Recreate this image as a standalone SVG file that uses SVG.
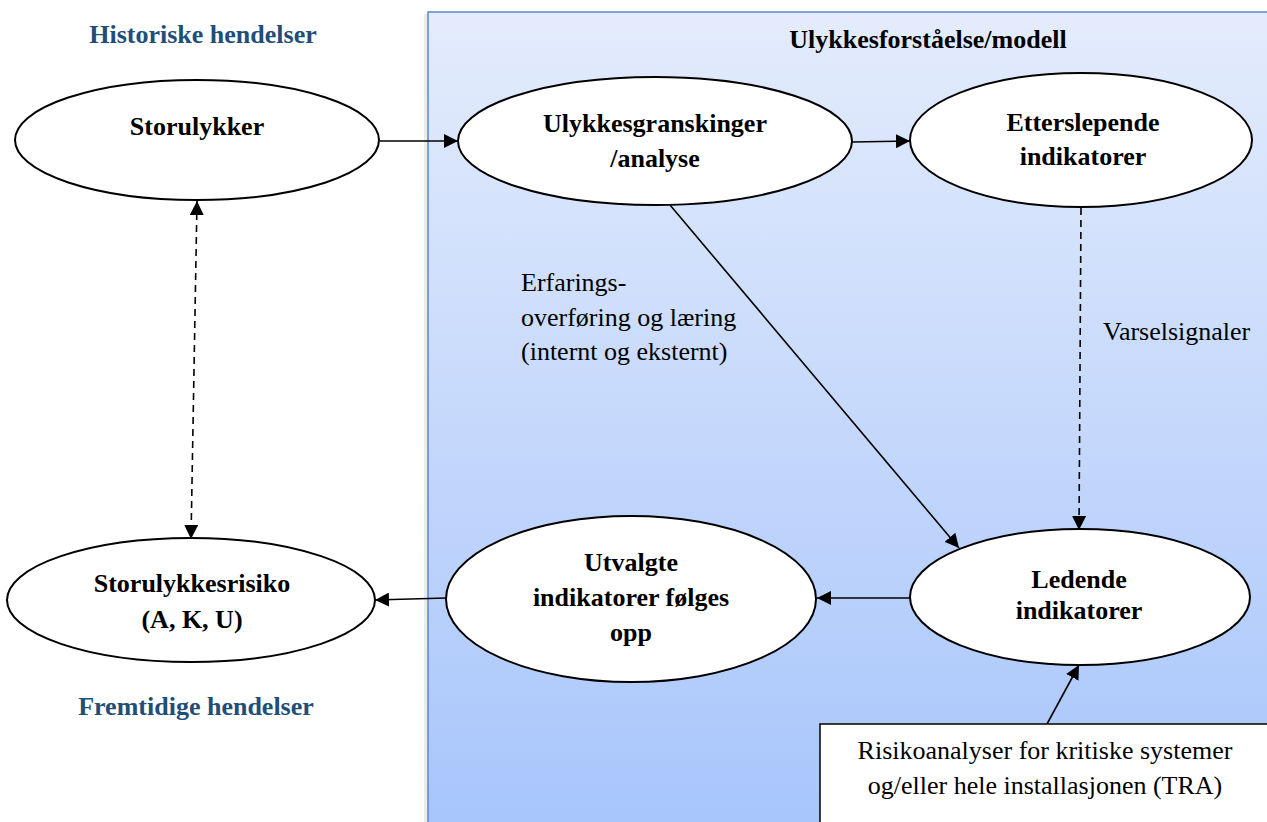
<svg xmlns="http://www.w3.org/2000/svg" width="1267" height="822" viewBox="0 0 1267 822">
  <defs>
    <linearGradient id="panelFill" x1="0" y1="0" x2="0" y2="1">
      <stop offset="0" stop-color="#e4ecfc"/>
      <stop offset="1" stop-color="#a7c5fb"/>
    </linearGradient>
    <marker id="arrow" viewBox="0 0 10 10" refX="10" refY="5" markerWidth="14" markerHeight="14" markerUnits="userSpaceOnUse" orient="auto-start-reverse">
      <path d="M0,0 L10,5 L0,10 Z" fill="#000"/>
    </marker>
    <style>
      .node { fill: #fff; stroke: #000; stroke-width: 2; }
      .lbl { font-family: "Liberation Serif", "Times New Roman", serif; font-size: 26px; font-weight: bold; fill: #000; text-anchor: middle; }
      .head { font-family: "Liberation Serif", "Times New Roman", serif; font-size: 26px; font-weight: bold; fill: #1f4e79; text-anchor: middle; }
      .note { font-family: "Liberation Serif", "Times New Roman", serif; font-size: 26px; fill: #000; }
      .edge { stroke: #000; stroke-width: 1.6; fill: none; }
      .dash { stroke-dasharray: 7 5; }
    </style>
  </defs>

  <rect width="1267" height="822" fill="#fff"/>

  <!-- model panel -->
  <g id="panel">
    <rect x="424" y="14" width="860" height="820" fill="#d8d8d8" opacity="0.5"/>
    <rect x="428" y="12" width="850" height="820" fill="url(#panelFill)" stroke="#5a89c9" stroke-width="1.5"/>
    <text class="lbl" x="928" y="48">Ulykkesforståelse/modell</text>
  </g>

  <text class="head" x="203" y="43">Historiske hendelser</text>
  <text class="head" x="196" y="715">Fremtidige hendelser</text>

  <!-- connectors -->
  <g id="connectors">
    <line class="edge" x1="380" y1="141" x2="458" y2="141" marker-end="url(#arrow)"/>
    <line class="edge" x1="852" y1="142" x2="910" y2="141" marker-end="url(#arrow)"/>
    <line class="edge dash" x1="197" y1="201" x2="191" y2="539" marker-start="url(#arrow)" marker-end="url(#arrow)"/>
    <line class="edge" x1="670" y1="205" x2="959" y2="548" marker-end="url(#arrow)"/>
    <line class="edge dash" x1="1081" y1="208" x2="1079" y2="530" marker-end="url(#arrow)"/>
    <line class="edge" x1="910" y1="598" x2="817" y2="598" marker-end="url(#arrow)"/>
    <line class="edge" x1="446" y1="598" x2="375" y2="600" marker-end="url(#arrow)"/>
    <line class="edge" x1="1047" y1="724" x2="1079" y2="665" marker-end="url(#arrow)"/>
  </g>

  <text class="note" x="521" y="291">Erfarings-</text>
  <text class="note" x="521" y="326">overføring og læring</text>
  <text class="note" x="521" y="360">(internt og eksternt)</text>
  <text class="note" x="1103" y="340">Varselsignaler</text>

  <g id="storulykker">
    <ellipse class="node" cx="197" cy="140" rx="182" ry="60"/>
    <text class="lbl" x="197" y="135">Storulykker</text>
  </g>

  <g id="granskinger">
    <ellipse class="node" cx="655" cy="141" rx="197" ry="64"/>
    <text class="lbl" x="655" y="132">Ulykkesgranskinger</text>
    <text class="lbl" x="655" y="167">/analyse</text>
  </g>

  <g id="etterslepende">
    <ellipse class="node" cx="1081" cy="140" rx="171" ry="67"/>
    <text class="lbl" x="1083" y="131">Etterslepende</text>
    <text class="lbl" x="1083" y="165">indikatorer</text>
  </g>

  <g id="ledende">
    <ellipse class="node" cx="1080" cy="597" rx="170" ry="68"/>
    <text class="lbl" x="1079" y="588">Ledende</text>
    <text class="lbl" x="1079" y="619">indikatorer</text>
  </g>

  <g id="utvalgte">
    <ellipse class="node" cx="631" cy="599" rx="185" ry="83"/>
    <text class="lbl" x="631" y="571">Utvalgte</text>
    <text class="lbl" x="631" y="606">indikatorer følges</text>
    <text class="lbl" x="631" y="641">opp</text>
  </g>

  <g id="storulykkesrisiko">
    <ellipse class="node" cx="191" cy="600" rx="184" ry="62"/>
    <text class="lbl" x="192" y="592">Storulykkesrisiko</text>
    <text class="lbl" x="192" y="628">(A, K, U)</text>
  </g>

  <g id="tra">
    <rect x="820" y="724" width="460" height="110" fill="#fff" stroke="#000" stroke-width="1.5"/>
    <text class="note" x="1045" y="759" text-anchor="middle">Risikoanalyser for kritiske systemer</text>
    <text class="note" x="1045" y="794" text-anchor="middle">og/eller hele installasjonen (TRA)</text>
  </g>
</svg>
